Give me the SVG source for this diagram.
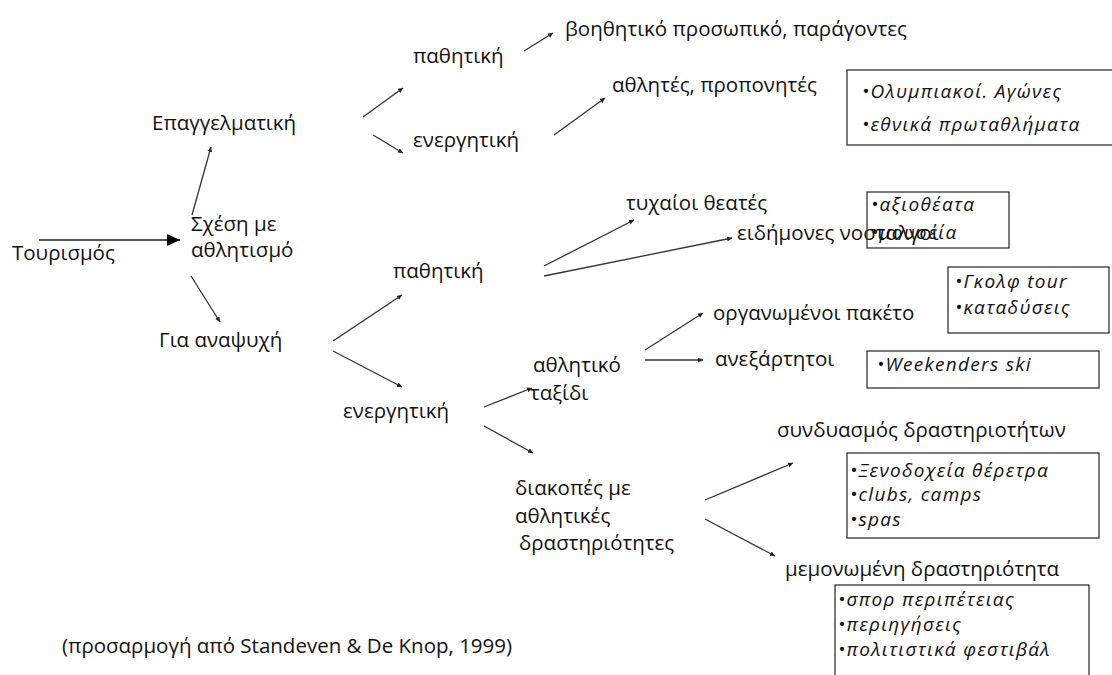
<svg xmlns="http://www.w3.org/2000/svg" width="1112" height="675" viewBox="0 0 1112 675">
<defs>
<style>
text{font-family:"Open Sans","Noto Sans","DejaVu Sans",sans-serif;font-size:20.5px;fill:#111}
.it{font-style:italic;font-size:19px;letter-spacing:1.3px}
.box{fill:none;stroke:#333;stroke-width:1.3}
.c{stroke:#333;stroke-width:1.3;fill:none;marker-end:url(#ah)}
.main{stroke:#555;stroke-width:2.2;fill:none;marker-end:url(#big)}
</style>
<marker id="ah" markerUnits="userSpaceOnUse" markerWidth="6" markerHeight="6" refX="5" refY="2.5" orient="auto"><path d="M0,0 L5,2.5 L0,5 z" fill="#222"/></marker>
<marker id="big" markerUnits="userSpaceOnUse" markerWidth="14" markerHeight="12" refX="13" refY="6" orient="auto"><path d="M0,0 L13,6 L0,12 z" fill="#000"/></marker>
</defs>
<rect width="1112" height="675" fill="#fff"/>
<g id="connectors">
<line class="main" x1="39" y1="240" x2="180" y2="240"/>
<line class="c" x1="192" y1="215" x2="211" y2="147"/>
<line class="c" x1="191" y1="276" x2="220" y2="322"/>
<line class="c" x1="363" y1="117" x2="403" y2="88"/>
<line class="c" x1="373" y1="135" x2="403" y2="153"/>
<line class="c" x1="524" y1="51" x2="553" y2="33"/>
<line class="c" x1="554" y1="135" x2="605" y2="98"/>
<line class="c" x1="544" y1="266" x2="634" y2="220"/>
<line class="c" x1="544" y1="276" x2="732" y2="238"/>
<line class="c" x1="333" y1="341" x2="402" y2="295"/>
<line class="c" x1="333" y1="351" x2="402" y2="387"/>
<line class="c" x1="645" y1="350" x2="703" y2="313"/>
<line class="c" x1="645" y1="360" x2="703" y2="360"/>
<line class="c" x1="484" y1="407" x2="532" y2="388"/>
<line class="c" x1="484" y1="426" x2="533" y2="453"/>
<line class="c" x1="705" y1="500" x2="793" y2="463"/>
<line class="c" x1="705" y1="519" x2="775" y2="556"/>
</g>
<g id="n-tourismos"><text x="12" y="260">Τουρισμός</text></g>
<g id="n-schesi"><text x="191" y="231">Σχέση με</text><text x="191" y="257">αθλητισμό</text></g>
<g id="n-epangelmatiki"><text x="152" y="130">Επαγγελματική</text></g>
<g id="n-anapsychi"><text x="159" y="347">Για αναψυχή</text></g>
<g id="n-pathitiki1"><text x="413" y="63">παθητική</text></g>
<g id="n-energitiki1"><text x="413" y="147">ενεργητική</text></g>
<g id="n-voithitiko"><text x="565" y="36">βοηθητικό προσωπικό, παράγοντες</text></g>
<g id="n-athlites"><text x="612" y="92">αθλητές, προπονητές</text></g>
<g id="b-olympiakoi"><rect class="box" x="847" y="70" width="268" height="75"/><text class="it" x="862" y="98">•Ολυμπιακοί. Αγώνες</text><text class="it" x="862" y="131">•εθνικά πρωταθλήματα</text></g>
<g id="n-tychaioi"><text x="626" y="210">τυχαίοι θεατές</text></g>
<g id="n-eidimones"><text x="737" y="240">ειδήμονες νοσταλγοί</text></g>
<g id="b-axiotheata"><rect class="box" x="867" y="192" width="142" height="56"/><text class="it" x="871" y="211">•αξιοθέατα</text><text class="it" x="871" y="239">•μουσεία</text></g>
<g id="n-pathitiki2"><text x="393" y="278">παθητική</text></g>
<g id="b-golf"><rect class="box" x="948" y="267" width="161" height="66"/><text class="it" x="955" y="288">•Γκολφ tour</text><text class="it" x="955" y="314">•καταδύσεις</text></g>
<g id="n-organomenoi"><text x="713" y="320">οργανωμένοι πακέτο</text></g>
<g id="n-anexartitoi"><text x="715" y="366">ανεξάρτητοι</text></g>
<g id="b-weekenders"><rect class="box" x="867" y="351" width="232" height="37"/><text class="it" x="877" y="371">•Weekenders ski</text></g>
<g id="n-athlitiko"><text x="533" y="372">αθλητικό</text><text x="530" y="400">ταξίδι</text></g>
<g id="n-energitiki2"><text x="343" y="418">ενεργητική</text></g>
<g id="n-syndyasmos"><text x="777" y="437">συνδυασμός δραστηριοτήτων</text></g>
<g id="b-xenodocheia"><rect class="box" x="847" y="453" width="252" height="85"/><text class="it" x="850" y="477">•Ξενοδοχεία θέρετρα</text><text class="it" x="850" y="501">•clubs, camps</text><text class="it" x="850" y="526">•spas</text></g>
<g id="n-diakopes"><text x="515" y="495">διακοπές με</text><text x="515" y="523">αθλητικές</text><text x="519" y="550">δραστηριότητες</text></g>
<g id="n-memonomeni"><text x="785" y="576">μεμονωμένη δραστηριότητα</text></g>
<g id="b-spor"><rect class="box" x="835" y="585" width="254" height="100"/><text class="it" x="838" y="606">•σπορ περιπέτειας</text><text class="it" x="838" y="631">•περιηγήσεις</text><text class="it" x="838" y="656">•πολιτιστικά φεστιβάλ</text></g>
<g id="n-source"><text x="62" y="653">(προσαρμογή από Standeven &amp; De Knop, 1999)</text></g>
</svg>
